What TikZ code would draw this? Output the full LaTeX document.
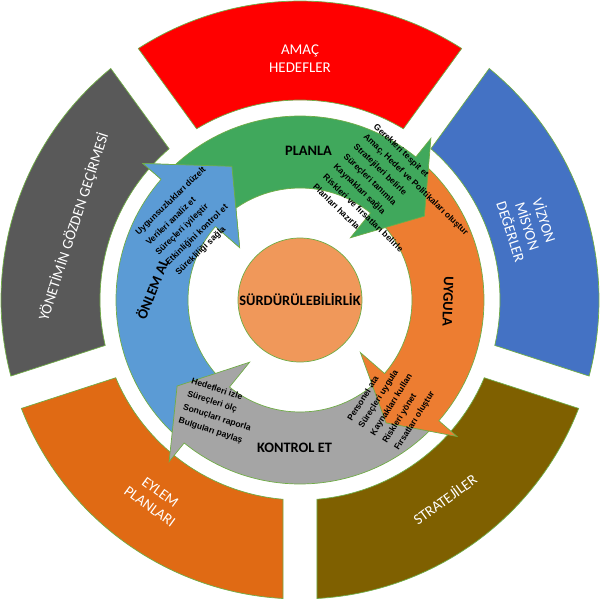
\documentclass[tikz,border=0pt]{standalone}
\usepackage{fontspec}
\setmainfont{Carlito}
\newfontfamily\listfont{Liberation Sans}
\usetikzlibrary{calc}

\definecolor{segred}{RGB}{255,0,0}
\definecolor{segblue}{RGB}{68,114,196}
\definecolor{segolive}{RGB}{127,96,0}
\definecolor{segorange}{RGB}{224,106,20}
\definecolor{seggray}{RGB}{89,89,89}
\definecolor{arrgreen}{RGB}{64,168,92}
\definecolor{arrblue}{RGB}{91,155,213}
\definecolor{arrorange}{RGB}{237,125,49}
\definecolor{arrgray}{RGB}{165,165,165}
\definecolor{coreorange}{RGB}{240,152,90}
\definecolor{edgegreen}{RGB}{112,173,71}

\tikzset{
  seglabel/.style={text=white, align=center, font=\fontsize{8.5}{10}\selectfont},
  pdcalabel/.style={font=\fontsize{8.2}{9}\selectfont\bfseries, inner sep=0pt},
  listtxt/.style={font=\listfont\fontsize{4.9}{6}\selectfont\bfseries, inner sep=0pt, anchor=west},
  edge/.style={draw=edgegreen, line width=0.4pt}
}

\begin{document}
\begin{tikzpicture}
\useasboundingbox (-6,-6) rectangle (6,6);

% outer ring, five sectors with straight gaps
\pgfmathsetmacro{\ao}{asin(0.34/5.98)}
\pgfmathsetmacro{\ai}{asin(0.34/4.0)}
\foreach \c/\col in {90/segred,18/segblue,-54/segolive,-126/segorange,162/seggray}
    \filldraw[fill=\col, edge] ({\c-36+\ao}:5.98) arc[start angle=\c-36+\ao, end angle=\c+36-\ao, radius=5.98]
        -- ({\c+36-\ai}:4.0) arc[start angle=\c+36-\ai, end angle=\c-36+\ai, radius=4.0] -- cycle;

\node[seglabel] (amac) at (90:4.83) {AMAÇ\\HEDEFLER};
\node[seglabel, rotate=-72] (vizyon) at (18:4.8) {VİZYON\\MİSYON\\DEĞERLER};
\node[seglabel, rotate=36] (strateji) at (-54:4.92) {STRATEJİLER};
\node[seglabel, rotate=-36] (eylem) at (-126:4.93) {EYLEM\\PLANLARI};
\node[seglabel, rotate=72] (yonetim) at (162:4.76) {YÖNETİMİN GÖZDEN GEÇİRMESİ};

% PDCA ring: tail / head base / tip
\foreach \t/\b/\p/\col in {227/139/117/arrblue, 316/231/215/arrgray, 47/-41/-55/arrorange, 135/51/34/arrgreen}
    \filldraw[fill=\col, edge] (\t:3.68) arc[start angle=\t, end angle=\b, radius=3.68]
        -- (\b:4.16) -- (\p:3.0) -- (\b:1.6) -- (\b:2.24) arc[start angle=\b, end angle=\t, radius=2.24] -- cycle;
% blue head again, over the green tail
\fill[arrblue] (139:4.16) -- (117:3.0) -- (139:1.6) -- cycle;
\draw[edge] (139:2.24) -- (139:1.6) -- (117:3.0) -- (139:4.16) -- (139:3.68);

\node[pdcalabel] (planla) at (0.17,2.98) {PLANLA};
\node[pdcalabel, rotate=-92] (uygula) at (2.96,-0.03) {UYGULA};
\node[pdcalabel] (kontrol) at (-0.11,-2.95) {KONTROL ET};
\node[pdcalabel, rotate=68] (onlem) at (-2.96,0.22) {ÖNLEM AL};

% center
\node[circle, fill=coreorange, edge, minimum size=2.48cm, inner sep=0pt] (core) at (0,0) {};
\node[pdcalabel] (surdur) at (core) {SÜRDÜRÜLEBİLİRLİK};

% step lists
\foreach \txt [count=\i from 0] in {Gerekleri tespit et, {Amaç, Hedef ve Politikaları oluştur}, Stratejileri belirle, Süreçleri tanımla, Kaynakları sağla, Riskleri ve fırsatları belirle, Planları hazırla}
    \node[listtxt, rotate=-44] (plan\i) at ($(1.49,3.49)+\i*(-0.2,-0.2)$) {\txt};
\foreach \txt [count=\i from 0] in {Uygunsuzlukları düzelt, Verileri analiz et, Süreçleri iyileştir, Etkinliğini kontrol et, Sürekliliği sağla}
    \node[listtxt, rotate=44] (onl\i) at ($(-3.26,1.32)+\i*(0.2,-0.2)$) {\txt};
\foreach \txt [count=\i from 0] in {Hedefleri izle, Süreçleri ölç, Sonuçları raporla, Bulguları paylaş}
    \node[listtxt, rotate=-18] (kon\i) at ($(-2.17,-1.61)+\i*(-0.086,-0.266)$) {\txt};
\foreach \txt [count=\i from 0] in {Personel ata, Süreçleri uygula, Kaynakları kullan, Riskleri yönet, Fırsatları oluştur}
    \node[listtxt, rotate=58] (uyg\i) at ($(0.98,-2.41)+\i*(0.238,-0.148)$) {\txt};
\end{tikzpicture}
\end{document}
